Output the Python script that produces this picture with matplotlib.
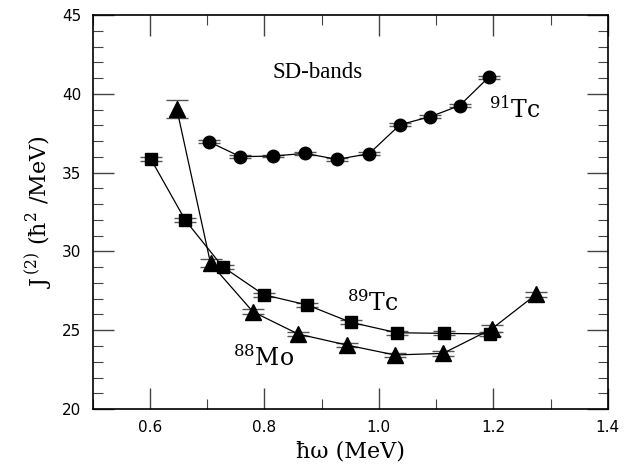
import matplotlib
matplotlib.use("Agg")
import matplotlib.pyplot as plt
from matplotlib.ticker import MultipleLocator, FormatStrFormatter

plt.rcParams["mathtext.fontset"] = "dejavuserif"

# 91Tc (circles)
tc91_x = [0.703, 0.758, 0.815, 0.871, 0.927, 0.983, 1.037, 1.090, 1.141, 1.192]
tc91_y = [36.96, 36.01, 36.05, 36.22, 35.84, 36.20, 38.04, 38.55, 39.25, 41.05]
tc91_err = [0.08, 0.08, 0.08, 0.08, 0.08, 0.08, 0.08, 0.08, 0.08, 0.1]

# 89Tc (squares)
tc89_x = [0.602, 0.662, 0.727, 0.799, 0.875, 0.951, 1.032, 1.114, 1.194]
tc89_y = [35.84, 31.97, 29.03, 27.25, 26.60, 25.50, 24.84, 24.80, 24.76]
tc89_err = [0.12, 0.12, 0.12, 0.12, 0.12, 0.12, 0.12, 0.12, 0.12]

# 88Mo (triangles)
mo88_x = [0.647, 0.706, 0.780, 0.859, 0.944, 1.028, 1.112, 1.197, 1.275]
mo88_y = [39.04, 29.24, 26.17, 24.76, 24.06, 23.43, 23.53, 25.08, 27.28]
mo88_err = [0.55, 0.25, 0.15, 0.15, 0.15, 0.15, 0.15, 0.22, 0.15]

fig = plt.figure(figsize=(6.26, 4.68), dpi=100)
ax = fig.add_axes([0.148, 0.126, 0.823, 0.842])

ekw = dict(color="black", ecolor="#555555", elinewidth=0.8, capsize=8,
           capthick=1.0, linewidth=0.9)
ax.errorbar(tc91_x, tc91_y, yerr=tc91_err, marker="o", markersize=9, **ekw)
ax.errorbar(tc89_x, tc89_y, yerr=tc89_err, marker="s", markersize=8, **ekw)
ax.errorbar(mo88_x, mo88_y, yerr=mo88_err, marker="^", markersize=11, **ekw)

ax.set_xlim(0.5, 1.4)
ax.set_ylim(20, 45)
ax.xaxis.set_major_locator(MultipleLocator(0.2))
ax.xaxis.set_minor_locator(MultipleLocator(0.1))
ax.yaxis.set_major_locator(MultipleLocator(5))
ax.yaxis.set_minor_locator(MultipleLocator(1))
ax.xaxis.set_major_formatter(FormatStrFormatter("%.1f"))
ax.tick_params(which="both", direction="in", top=True, right=True,
               color="#444444", labelsize=11, pad=8)
ax.tick_params(which="major", length=15, width=1.0)
ax.tick_params(which="minor", length=7, width=0.8)
for lab in ax.get_xticklabels() + ax.get_yticklabels():
    lab.set_fontfamily("DejaVu Sans")
for s in ax.spines.values():
    s.set_linewidth(1.2)

ax.set_xlabel("ħω (MeV)", fontfamily="DejaVu Serif", fontsize=16, labelpad=4)
ax.set_ylabel(r"J$^{\,(2)}$ (ħ$^{2}$ /MeV)", fontfamily="DejaVu Serif",
              fontsize=16, labelpad=6)

ax.text(0.893, 41.35, "SD-bands", fontfamily="Liberation Serif", fontsize=16.5,
        ha="center", va="center")
ax.text(1.193, 39.0, r"$^{91}$Tc", fontfamily="DejaVu Serif", fontsize=17,
        ha="left", va="center")
ax.text(0.945, 26.7, r"$^{89}$Tc", fontfamily="DejaVu Serif", fontsize=17,
        ha="left", va="center")
ax.text(0.745, 23.2, r"$^{88}$Mo", fontfamily="DejaVu Serif", fontsize=17,
        ha="left", va="center")

fig.savefig("out.png", dpi=100)
